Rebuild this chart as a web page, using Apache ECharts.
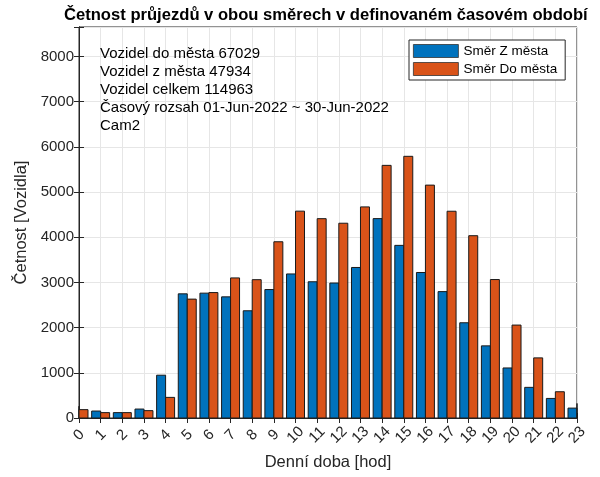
<!DOCTYPE html>
<html>
<head>
<meta charset="utf-8">
<script src="https://cdn.jsdelivr.net/npm/echarts@6/dist/echarts.min.js"></script>
<style>
  html, body { margin: 0; padding: 0; background: #fff; }
  #chart { width: 600px; height: 477px; }
</style>
</head>
<body>
<div id="chart"></div>
<script>
// hodiny dne 0..23
var hours = [0,1,2,3,4,5,6,7,8,9,10,11,12,13,14,15,16,17,18,19,20,21,22,23];
// Směr Z města (modrá)
var zMesta = [260,154,119,198,947,2747,2762,2680,2372,2842,3187,3014,2986,3330,4411,3819,3219,2796,2107,1596,1107,678,433,219];
// Směr Do města (oranžová)
var doMesta = [185,119,119,163,456,2630,2775,3099,3060,3899,4576,4410,4309,4670,5589,5789,5152,4574,4033,3063,2056,1330,581,322];
var infoLines = [
  'Vozidel do města 67029',
  'Vozidel z města 47934',
  'Vozidel celkem 114963',
  'Časový rozsah 01-Jun-2022 ~ 30-Jun-2022',
  'Cam2'
];

var txt = '#262626';
var font = 'Liberation Sans, Arial, sans-serif';

function pairs(vals) {
  return hours.map(function (h, i) { return [h, vals[i]]; });
}

// sloupce jako v MATLABu: modrý vlevo od hodiny, oranžový vpravo, oříznuté na osu
function barRenderer(side) {
  return function (params, api) {
    var base = api.coord([api.value(0), 0]);
    var top = api.coord([api.value(0), api.value(1)]);
    var w = api.size([1, 0])[0] * 0.415;
    var rect = {
      x: side < 0 ? base[0] - w : base[0],
      y: top[1],
      width: w,
      height: base[1] - top[1]
    };
    var cs = params.coordSys;
    rect = echarts.graphic.clipRectByRect(rect, { x: cs.x, y: cs.y, width: cs.width, height: cs.height });
    if (!rect) return null;
    return { type: 'rect', shape: rect, style: api.style() };
  };
}

var chart = echarts.init(document.getElementById('chart'));
var option = {
  animation: false,
  textStyle: { fontFamily: font },
  title: {
    text: 'Četnost průjezdů v obou směrech v definovaném časovém období',
    left: 59, top: 2,
    textStyle: { fontSize: 16.6, fontWeight: 'bold', color: '#000', fontFamily: font }
  },
  grid: { left: 79, right: 23, top: 27, bottom: 59, show: true, borderColor: txt, borderWidth: 1 },
  legend: {
    orient: 'vertical',
    left: 409, top: 40,
    icon: 'rect',
    itemWidth: 45, itemHeight: 13, itemGap: 4,
    padding: [4, 8, 4, 4],
    backgroundColor: '#fff',
    borderColor: '#262626', borderWidth: 1,
    itemStyle: { borderColor: '#333', borderWidth: 0.8 },
    textStyle: { fontSize: 13.5, color: '#000', fontFamily: font },
    data: ['Směr Z města', 'Směr Do města']
  },
  xAxis: [{
    type: 'value', min: 0, max: 23, interval: 1,
    name: 'Denní doba [hod]', nameLocation: 'middle', nameGap: 36,
    nameTextStyle: { fontSize: 16.5, color: txt },
    axisLine: { show: true, lineStyle: { color: txt } },
    axisTick: { inside: true, length: 5, lineStyle: { color: txt } },
    axisLabel: { rotate: 45, align: 'center', verticalAlign: 'middle', fontSize: 15, color: txt, margin: 17 },
    splitLine: { show: true, lineStyle: { color: '#e6e6e6' } }
  }, {
    type: 'value', min: 0, max: 23, interval: 1, position: 'top',
    axisLine: { show: true, lineStyle: { color: txt } },
    axisTick: { inside: true, length: 5, lineStyle: { color: txt } },
    axisLabel: { show: false }, splitLine: { show: false }
  }],
  yAxis: [{
    type: 'value', min: 0, max: 8650, interval: 1000,
    name: 'Četnost [Vozidla]', nameLocation: 'middle', nameGap: 41,
    nameTextStyle: { fontSize: 16.5, color: txt },
    axisLine: { show: true, lineStyle: { color: txt } },
    axisTick: { inside: true, length: 5, lineStyle: { color: txt } },
    axisLabel: {
      fontSize: 15, color: txt, margin: 5,
      formatter: function (v) { return v % 1000 === 0 ? String(v) : ''; }
    },
    splitLine: { show: true, lineStyle: { color: '#e6e6e6' } }
  }, {
    type: 'value', min: 0, max: 8650, interval: 1000, position: 'right',
    axisLine: { show: true, lineStyle: { color: txt } },
    axisTick: { inside: true, length: 5, lineStyle: { color: txt } },
    axisLabel: { show: false }, splitLine: { show: false }
  }],
  series: [{
    name: 'Směr Z města', type: 'custom',
    renderItem: barRenderer(-1),
    encode: { x: 0, y: 1 },
    itemStyle: { color: '#0072BD', borderColor: '#1a1a1a', borderWidth: 1 },
    data: pairs(zMesta)
  }, {
    name: 'Směr Do města', type: 'custom',
    renderItem: barRenderer(1),
    encode: { x: 0, y: 1 },
    itemStyle: { color: '#D95319', borderColor: '#1a1a1a', borderWidth: 1 },
    data: pairs(doMesta)
  }],
  graphic: [{
    type: 'text', left: 100, top: 45, z: 100,
    style: {
      text: infoLines.join('\n'),
      font: '15px ' + font,
      lineHeight: 18,
      fill: '#000'
    }
  }]
};
chart.setOption(option);
</script>
</body>
</html>
